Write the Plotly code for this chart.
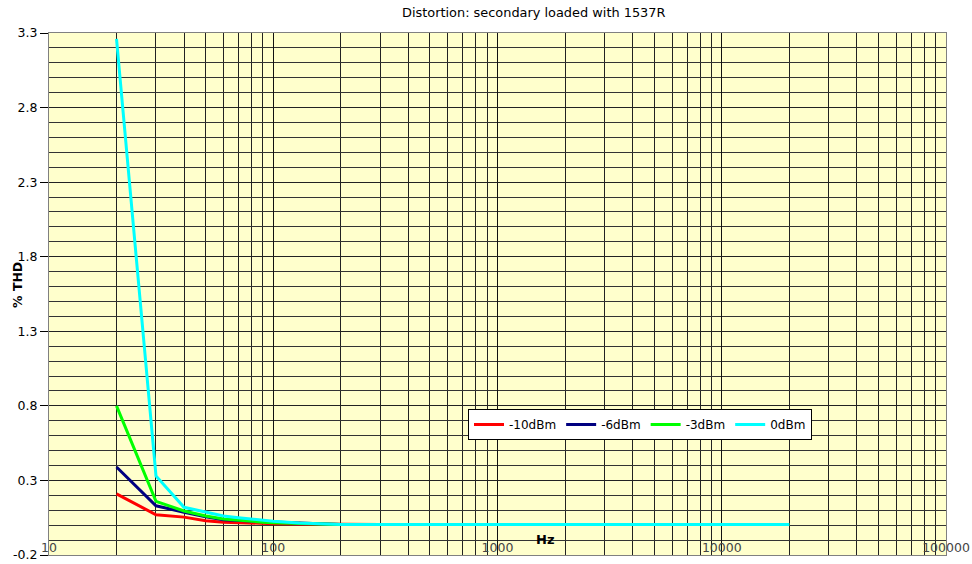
import plotly.graph_objects as go

freq_hz = [20, 30, 40, 50, 60, 70, 80, 90, 100, 130, 150, 200, 300, 500, 1000, 2000, 5000, 10000, 20000]
thd_m10 = [0.21, 0.07, 0.054, 0.03, 0.02, 0.016, 0.013, 0.011, 0.01, 0.008, 0.007, 0.005, 0.005, 0.005, 0.005, 0.005, 0.005, 0.005, 0.005]
thd_m6 = [0.39, 0.13, 0.087, 0.056, 0.036, 0.03, 0.026, 0.024, 0.022, 0.018, 0.012, 0.005, 0.005, 0.005, 0.005, 0.005, 0.005, 0.005, 0.005]
thd_m3 = [0.80, 0.16, 0.095, 0.062, 0.042, 0.032, 0.025, 0.02, 0.016, 0.01, 0.008, 0.005, 0.005, 0.005, 0.005, 0.005, 0.005, 0.005, 0.005]
thd_0 = [3.26, 0.33, 0.12, 0.088, 0.062, 0.05, 0.04, 0.032, 0.026, 0.014, 0.01, 0.005, 0.005, 0.005, 0.005, 0.005, 0.005, 0.005, 0.005]

series_names = ["-10dBm", "-6dBm", "-3dBm", "0dBm"]
series_values = [thd_m10, thd_m6, thd_m3, thd_0]
series_colors = ["#FF0000", "#000080", "#00FF00", "#00FFFF"]

x_tick_vals = [10, 100, 1000, 10000, 100000]
x_tick_text = ["10", "100", "1000", "10000", "100000"]
y_tick_vals = [-0.2, 0.3, 0.8, 1.3, 1.8, 2.3, 2.8, 3.3]
y_tick_text = ["-0.2", "0.3", "0.8", "1.3", "1.8", "2.3", "2.8", "3.3"]

minor_x = [m * d for d in [10, 100, 1000, 10000] for m in range(2, 10)]

fig = go.Figure()
for name, vals, col in zip(series_names, series_values, series_colors):
    fig.add_trace(go.Scatter(x=freq_hz, y=vals, name=name, mode="lines",
                             line=dict(color=col, width=3)))

font_fam = "DejaVu Sans, Liberation Sans, Arial, sans-serif"

FW, FH = 972, 564
L, R, T, B = 49, 946, 33, 555  # target plot area in window pixels
W, H = R - L, B - T

fig.update_layout(
    width=FW, height=FH,
    margin=dict(l=L, r=FW - R, t=T, b=FH - B, autoexpand=False),
    paper_bgcolor="white",
    plot_bgcolor="#FFFFCC",
    font=dict(family=font_fam, size=12.5, color="black"),
    showlegend=True,
    legend=dict(orientation="h", x=(468 - L) / W, y=(B - 409) / H, xanchor="left", yanchor="top",
                bgcolor="white", bordercolor="black", borderwidth=1,
                font=dict(size=12, family=font_fam), itemwidth=30,
                tracegroupgap=0),
    xaxis=dict(type="log", range=[1, 5], tickvals=x_tick_vals, ticktext=x_tick_text,
               ticklabelposition="inside", ticklabeloverflow="allow", ticks="", showgrid=True,
               gridcolor="#111111", gridwidth=1, showline=True, linecolor="#808080",
               linewidth=1, mirror=True, zeroline=False, automargin=False,
               tickfont=dict(size=12.5, family=font_fam),
               minor=dict(tickvals=minor_x, showgrid=True, gridcolor="#222222", gridwidth=1)),
    yaxis=dict(range=[-0.2, 3.3], tickvals=y_tick_vals, ticktext=y_tick_text,
               ticks="outside", ticklen=8, tickcolor="black", showgrid=True,
               gridcolor="#222222", gridwidth=1, showline=True, linecolor="#808080",
               linewidth=1, mirror=True, zeroline=False, automargin=False,
               tickfont=dict(size=12.5, family=font_fam),
               minor=dict(dtick=0.1, tick0=-0.2, showgrid=True, gridcolor="#333333", gridwidth=1)),
    annotations=[
        dict(text="Distortion: secondary loaded with 1537R", x=(534 - L) / W, y=1 + (T - 12) / H,
             xref="paper", yref="paper", showarrow=False, yanchor="middle",
             font=dict(size=12.9)),
        dict(text="<b>Hz</b>", x=(545 - L) / W, y=(B - 539) / H, xref="paper", yref="paper",
             showarrow=False, yanchor="middle", font=dict(size=13)),
        dict(text="<b>% THD</b>", x=(17 - L) / W, y=(B - 285) / H, xref="paper", yref="paper",
             showarrow=False, textangle=-90, yanchor="middle", xanchor="center",
             font=dict(size=12.5)),
    ],
)
fig.write_html("out.html", config={"displayModeBar": False},
               post_script="document.body.style.margin='0px';")
